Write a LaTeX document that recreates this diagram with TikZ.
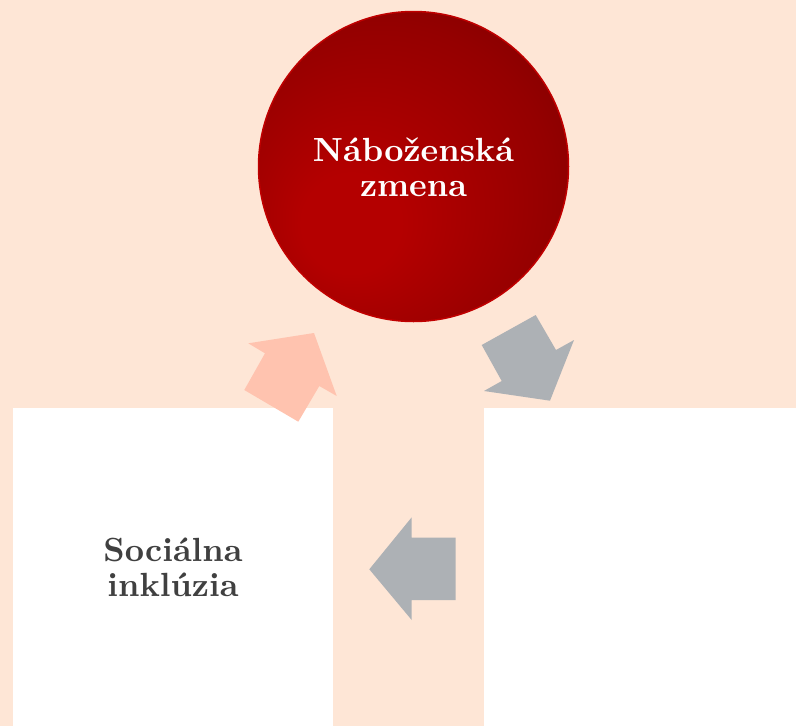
\documentclass[tikz,border=0pt]{standalone}
\usepackage{fontspec}
\newfontfamily\tenbf{lmroman10-bold.otf}
\definecolor{bgpeach}{HTML}{FEE6D6}
\definecolor{pinkarrow}{HTML}{FFC3AF}
\definecolor{grayarrow}{HTML}{ADB1B5}
\definecolor{darktext}{HTML}{404040}
\definecolor{redborder}{HTML}{C00000}
\definecolor{redA}{HTML}{B40000}
\definecolor{redB}{HTML}{940000}
\definecolor{redC}{HTML}{740000}
\pgfdeclareradialshading{redball}{\pgfpoint{-12bp}{-11bp}}{color(0bp)=(redA); color(8bp)=(redA); color(28bp)=(redB); color(42bp)=(redC); color(50bp)=(redC)}
\tikzset{
  box/.style={fill=white, draw=none, inner sep=0pt, outer sep=0pt},
  bigtext/.style={font=\tenbf\fontsize{33.5}{35}\selectfont, align=center},
  arrowshape/.style={draw=none},
}
\begin{document}
\begin{tikzpicture}[x=1pt,y=-1pt]
\fill[bgpeach] (0,0) rectangle (796,726);
\useasboundingbox (0,0) rectangle (796,726);
% boxes
\node[box, minimum width=320pt, minimum height=318pt, anchor=north west] (left) at (13,408) {};
\node[box, minimum width=312pt, minimum height=318pt, anchor=north west] (right) at (484,408) {};
\node[bigtext, text=darktext] (lefttext) at (left.center) {Sociálna\\inklúzia};
% circle
\node[circle, minimum size=310pt, inner sep=0pt, shading=redball, draw=redborder, line width=1.5pt] (top) at (413.5,166.5) {};
\node[bigtext, text=white] (toptext) at (413.5,167) {Náboženská\\zmena};
% arrows
\fill[pinkarrow, arrowshape] (314,333) -- (336.7,396) -- (319.3,386) -- (298.3,421.7) -- (244.3,390) -- (265,353.3) -- (248.3,343.3) -- cycle;
\fill[grayarrow, arrowshape] (550,400.7) -- (484,391) -- (501.7,381) -- (481.7,345) -- (535.7,315) -- (556,350) -- (574,340) -- cycle;
\fill[grayarrow, arrowshape] (369.3,569.3) -- (411.7,517.3) -- (411.7,537.7) -- (455.7,537.7) -- (455.7,600) -- (411.7,600) -- (411.7,620) -- cycle;
\end{tikzpicture}
\end{document}
